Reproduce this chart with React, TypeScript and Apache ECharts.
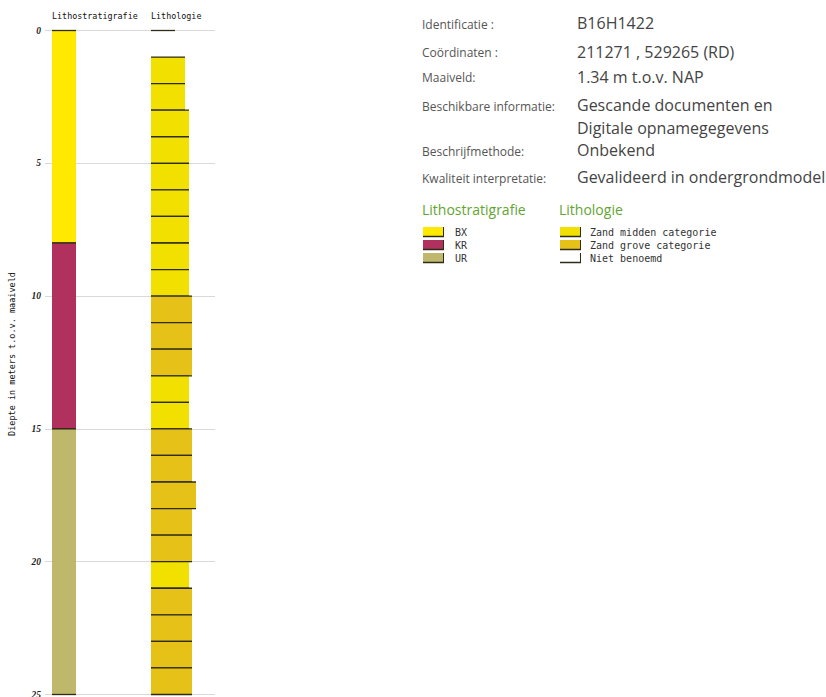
import React, { useEffect, useRef } from "react";
import * as echarts from "echarts";

// ---- data ----
const depthMin = 0;
const depthMax = 25;
const depthInterval = 5;

const stratNames = ["BX", "KR", "UR"];
const stratColors = ["#ffe900", "#b0305e", "#bfb86c"];
const stratTop = [0, 8, 15];
const stratBottom = [8, 15, 25];
const stratUnit = [0, 1, 2];

const lithoNames = ["Zand midden categorie", "Zand grove categorie", "Niet benoemd"];
const lithoColors = ["#f2e000", "#e6c117", "none"];
const lithoTop = [0, 1, 2, 3, 4, 5, 6, 7, 8, 9, 10, 11, 12, 13, 14, 15, 16, 17, 18, 19, 20, 21, 22, 23, 24];
const lithoBottom = [1, 2, 3, 4, 5, 6, 7, 8, 9, 10, 11, 12, 13, 14, 15, 16, 17, 18, 19, 20, 21, 22, 23, 24, 25];
// 0 = midden, 1 = grove, 2 = niet benoemd
const lithoClass = [2, 0, 0, 0, 0, 0, 0, 0, 0, 0, 1, 1, 1, 0, 0, 1, 1, 1, 1, 1, 0, 1, 1, 1, 1];
const lithoWidth = [24, 34, 34, 38, 38, 38, 38, 38, 38, 38, 41, 41, 41, 38, 38, 41, 41, 45, 41, 41, 38, 41, 41, 41, 41];

const infoLabels = [
  "Identificatie :",
  "Coördinaten :",
  "Maaiveld:",
  "Beschikbare informatie:",
  "",
  "Beschrijfmethode:",
  "Kwaliteit interpretatie:",
];
const infoValues = [
  "B16H1422",
  "211271 , 529265 (RD)",
  "1.34 m t.o.v. NAP",
  "Gescande documenten en",
  "Digitale opnamegegevens",
  "Onbekend",
  "Gevalideerd in ondergrondmodel",
];

const axisName = "Diepte in meters t.o.v. maaiveld";

// ---- layout (pixels / axis units) ----
const STRAT_X0 = 7;
const STRAT_W = 24;
const LITHO_X0 = 106;
const LINE_COLOR = "#2f2c16";

export default function App() {
  const ref = useRef<HTMLDivElement>(null);

  useEffect(() => {
    if (!ref.current) return;
    const chart = echarts.init(ref.current, undefined, { renderer: "svg" });

    const layerRender = (fillFor: (i: number) => string, xStart: number) =>
      (params: any, api: any) => {
        const top = api.value(0);
        const bottom = api.value(1);
        const w = api.value(2);
        const cls = api.value(3);
        const p0 = api.coord([xStart, top]);
        const p1 = api.coord([xStart + w, bottom]);
        const fill = fillFor(cls);
        const children: any[] = [];
        if (fill !== "none") {
          children.push({
            type: "rect",
            shape: { x: p0[0], y: p0[1], width: p1[0] - p0[0], height: p1[1] - p0[1] },
            style: { fill },
          });
        }
        children.push({
          type: "line",
          shape: { x1: p0[0], y1: p0[1], x2: p1[0], y2: p0[1] },
          style: { stroke: LINE_COLOR, lineWidth: 1.3 },
        });
        if (fill !== "none") {
          children.push({
            type: "line",
            shape: { x1: p0[0], y1: p1[1], x2: p1[0], y2: p1[1] },
            style: { stroke: LINE_COLOR, lineWidth: 1.3 },
          });
        }
        return { type: "group", children };
      };

    const stratData = stratTop.map((t, i) => [t, stratBottom[i], STRAT_W, stratUnit[i]]);
    const lithoData = lithoTop.map((t, i) => [t, lithoBottom[i], lithoWidth[i], lithoClass[i]]);

    const valueY = [23, 51.5, 76.5, 105, 128, 150, 177];

    const graphics: any[] = [];
    infoLabels.forEach((l, i) => {
      if (!l) return;
      graphics.push({
        type: "text",
        x: 422,
        y: valueY[i] + 1.3,
        style: { text: l, font: '12px "Open Sans"', fill: "#555", verticalAlign: "middle" },
      });
    });
    infoValues.forEach((v, i) => {
      graphics.push({
        type: "text",
        x: 577,
        y: valueY[i],
        style: { text: v, font: '16px "Open Sans"', fill: "#444", verticalAlign: "middle", align: "left" },
      });
    });

    // legends
    graphics.push({
      type: "text",
      x: 422,
      y: 209,
      style: { text: "Lithostratigrafie", font: '14px "Open Sans"', fill: "#5fa531", verticalAlign: "middle" },
    });
    graphics.push({
      type: "text",
      x: 559,
      y: 209,
      style: { text: "Lithologie", font: '14px "Open Sans"', fill: "#5fa531", verticalAlign: "middle" },
    });
    const legendRow = (x: number, y: number, color: string, label: string, tx: number) => {
      if (color !== "none") {
        graphics.push({ type: "rect", shape: { x, y, width: 20, height: 10 }, style: { fill: color } });
      }
      graphics.push({ type: "line", shape: { x1: x, y1: y + 9.5, x2: x + 21, y2: y + 9.5 }, style: { stroke: LINE_COLOR, lineWidth: 1.5 } });
      graphics.push({ type: "line", shape: { x1: x + 20.5, y1: y, x2: x + 20.5, y2: y + 10 }, style: { stroke: LINE_COLOR, lineWidth: 1 } });
      graphics.push({
        type: "text",
        x: tx,
        y: y + 5.5,
        style: { text: label, font: '10px "DejaVu Sans Mono"', fill: "#333", verticalAlign: "middle" },
      });
    };
    stratNames.forEach((n, i) => legendRow(423, 227 + i * 13, stratColors[i], n, 455));
    lithoNames.forEach((n, i) => legendRow(560, 227 + i * 13, lithoColors[i], n, 590));

    // column titles
    graphics.push({
      type: "text",
      x: 52,
      y: 16,
      style: { text: "Lithostratigrafie", font: '8.4px "DejaVu Sans Mono"', fill: "#111", verticalAlign: "middle" },
    });
    graphics.push({
      type: "text",
      x: 151,
      y: 16,
      style: { text: "Lithologie", font: '8.4px "DejaVu Sans Mono"', fill: "#111", verticalAlign: "middle" },
    });
    // axis name
    graphics.push({
      type: "text",
      x: 12,
      y: 354,
      rotation: Math.PI / 2,
      style: { text: axisName, font: '8.5px "DejaVu Sans Mono"', fill: "#111", align: "center", verticalAlign: "middle" },
    });

    chart.setOption({
      animation: false,
      grid: { left: 45, top: 30.5, width: 170, height: 664, outerBoundsMode: "none", containLabel: false },
      xAxis: { type: "value", min: 0, max: 170, show: false },
      yAxis: {
        type: "value",
        inverse: true,
        min: depthMin,
        max: depthMax,
        interval: depthInterval,
        axisLine: { show: false },
        axisTick: { show: false },
        axisLabel: {
          margin: 4,
          fontFamily: "Liberation Serif",
          fontStyle: "italic",
          fontWeight: "bold",
          fontSize: 9.5,
          color: "#222",
        },
        splitLine: { lineStyle: { color: "#d9d9d9", width: 1 } },
      },
      series: [
        {
          type: "custom",
          name: "Lithostratigrafie",
          renderItem: layerRender((i) => stratColors[i], STRAT_X0),
          data: stratData,
          clip: false,
        },
        {
          type: "custom",
          name: "Lithologie",
          renderItem: layerRender((i) => lithoColors[i], LITHO_X0),
          data: lithoData,
          clip: false,
        },
      ],
      graphic: graphics,
    });

    return () => chart.dispose();
  }, []);

  return (
    <div
      ref={ref}
      style={{ position: "absolute", left: 0, top: 0, width: 826, height: 697, background: "#fff" }}
    />
  );
}
